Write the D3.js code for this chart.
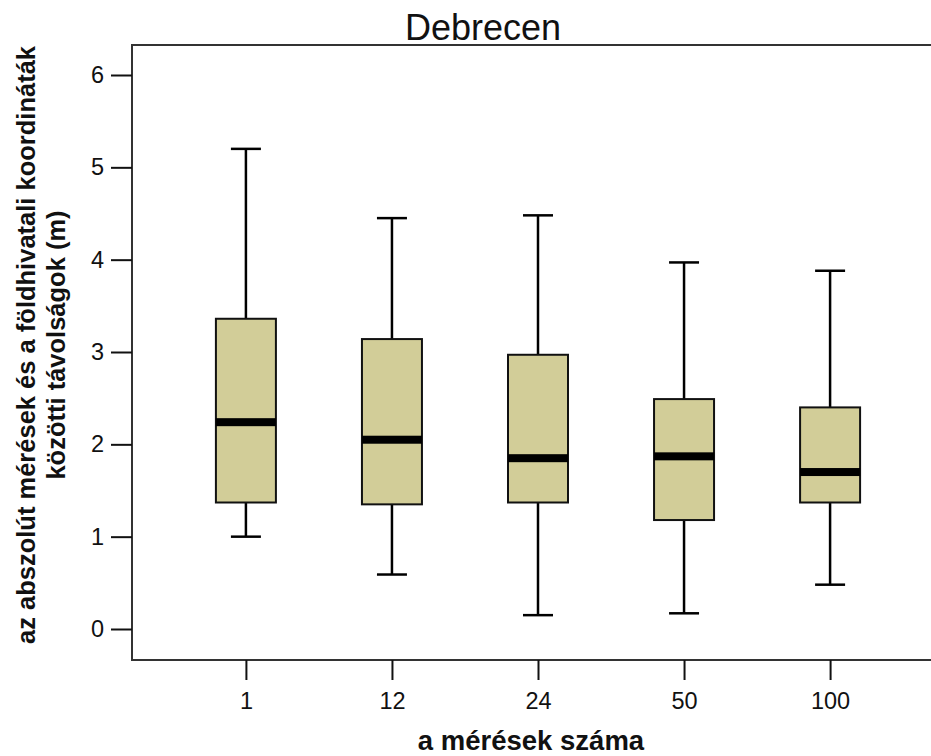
<!DOCTYPE html>
<html>
<head>
<meta charset="utf-8">
<script src="https://cdn.jsdelivr.net/npm/d3@7"></script>
<style>
  html, body { margin: 0; padding: 0; background: #fff; }
  svg { display: block; font-family: "Liberation Sans", Arial, sans-serif; }
</style>
</head>
<body>
<svg id="chart" width="931" height="756"></svg>
<script>
// Number of measurements (category axis)
const categories = ["1", "12", "24", "50", "100"];
// Box-plot statistics per category (metres)
const whiskerLow  = [1.00, 0.59, 0.15, 0.17, 0.48];
const quartile1   = [1.37, 1.35, 1.37, 1.18, 1.37];
const medians     = [2.24, 2.05, 1.85, 1.87, 1.70];
const quartile3   = [3.36, 3.14, 2.97, 2.49, 2.40];
const whiskerHigh = [5.20, 4.45, 4.48, 3.97, 3.88];
const yTicks = [0, 1, 2, 3, 4, 5, 6];

const titleText = "Debrecen";
const xTitle = "a mérések száma";
const yTitleLines = ["az abszolút mérések és a földhivatali koordináták", "közötti távolságok (m)"];

const boxes = categories.map((c, i) => ({
  cat: c, lo: whiskerLow[i], q1: quartile1[i], med: medians[i], q3: quartile3[i], hi: whiskerHigh[i]
}));

const svg = d3.select("#chart");

// Plot frame
const frame = { left: 132, right: 944, top: 45, bottom: 660 };

const x = d3.scalePoint().domain(categories).range([frame.left, frame.right]).padding(0.78);
const y = d3.scaleLinear().domain([0, 6]).range([629, 75]);

const boxW = 60, capW = 30, medH = 8;
const fill = "#d2cd98";

// Frame lines (left, top, bottom); the right side runs off the canvas
svg.append("path")
  .attr("d", `M${frame.right},${frame.top}H${frame.left}V${frame.bottom}H${frame.right}`)
  .attr("fill", "none").attr("stroke", "#333").attr("stroke-width", 2);

// Y axis
const yAxis = svg.append("g")
  .attr("transform", `translate(${frame.left},0)`)
  .call(d3.axisLeft(y).tickValues(yTicks).tickSize(21).tickPadding(7).tickFormat(d3.format("d")));
yAxis.select(".domain").remove();
yAxis.selectAll(".tick line").attr("stroke", "#111").attr("stroke-width", 2);
yAxis.selectAll(".tick text").attr("font-size", 23.5).attr("fill", "#111")
  .attr("font-family", "Liberation Sans, Arial, sans-serif");

// X axis
const xAxis = svg.append("g")
  .attr("transform", `translate(0,${frame.bottom})`)
  .call(d3.axisBottom(x).tickSize(20).tickPadding(12));
xAxis.select(".domain").remove();
xAxis.selectAll(".tick line").attr("stroke", "#111").attr("stroke-width", 2);
xAxis.selectAll(".tick text").attr("font-size", 23.5).attr("fill", "#111")
  .attr("font-family", "Liberation Sans, Arial, sans-serif");

// Box plots
const g = svg.append("g");
const bx = g.selectAll("g.box").data(boxes).join("g").attr("class", "box");

// Whisker stems
bx.append("line")
  .attr("x1", d => x(d.cat)).attr("x2", d => x(d.cat))
  .attr("y1", d => y(d.hi)).attr("y2", d => y(d.q3))
  .attr("stroke", "#000").attr("stroke-width", 2.5);
bx.append("line")
  .attr("x1", d => x(d.cat)).attr("x2", d => x(d.cat))
  .attr("y1", d => y(d.q1)).attr("y2", d => y(d.lo))
  .attr("stroke", "#000").attr("stroke-width", 2.5);
// Whisker caps
bx.append("line")
  .attr("x1", d => x(d.cat) - capW / 2).attr("x2", d => x(d.cat) + capW / 2)
  .attr("y1", d => y(d.hi)).attr("y2", d => y(d.hi))
  .attr("stroke", "#000").attr("stroke-width", 2.5);
bx.append("line")
  .attr("x1", d => x(d.cat) - capW / 2).attr("x2", d => x(d.cat) + capW / 2)
  .attr("y1", d => y(d.lo)).attr("y2", d => y(d.lo))
  .attr("stroke", "#000").attr("stroke-width", 2.5);
// Interquartile box
bx.append("rect")
  .attr("x", d => x(d.cat) - boxW / 2).attr("width", boxW)
  .attr("y", d => y(d.q3)).attr("height", d => y(d.q1) - y(d.q3))
  .attr("fill", fill).attr("stroke", "#111").attr("stroke-width", 2);
// Median bar
bx.append("rect")
  .attr("x", d => x(d.cat) - boxW / 2).attr("width", boxW)
  .attr("y", d => y(d.med) - medH / 2).attr("height", medH)
  .attr("fill", "#000");

// Titles
svg.append("text")
  .attr("x", 483).attr("y", 40)
  .attr("text-anchor", "middle").attr("font-size", 36).attr("fill", "#111")
  .text(titleText);

svg.append("text")
  .attr("x", 531).attr("y", 750)
  .attr("text-anchor", "middle").attr("font-size", 27.5).attr("font-weight", "bold").attr("fill", "#111")
  .text(xTitle);

const yt = svg.append("text")
  .attr("transform", "translate(0,345) rotate(-90)")
  .attr("text-anchor", "middle").attr("font-size", 25.5).attr("font-weight", "bold").attr("fill", "#111");
yt.selectAll("tspan").data(yTitleLines).join("tspan")
  .attr("x", 0).attr("y", (d, i) => 35 + i * 30)
  .text(d => d);
</script>
</body>
</html>
